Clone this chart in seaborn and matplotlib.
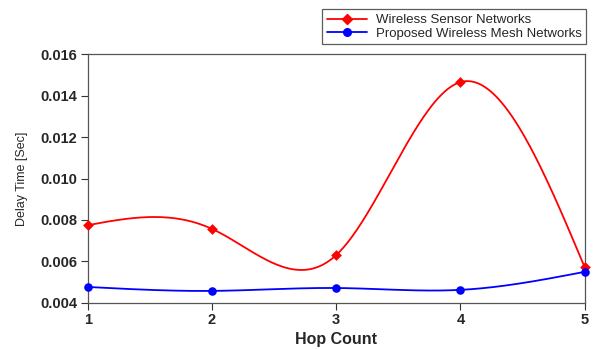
import numpy as np
import pandas as pd
import seaborn as sns
import matplotlib
matplotlib.use("Agg")
import matplotlib.pyplot as plt
from matplotlib.lines import Line2D

hops = [1, 2, 3, 4, 5]
wsn = [0.00775, 0.00757, 0.00631, 0.01465, 0.00572]
wmn = [0.00477, 0.00458, 0.00472, 0.00463, 0.00550]
series_names = ["Wireless Sensor Networks", "Proposed Wireless Mesh Networks"]
yticks = [0.004, 0.006, 0.008, 0.010, 0.012, 0.014, 0.016]


def natural_spline(x, y, n=300):
    x = np.asarray(x, float)
    y = np.asarray(y, float)
    k = len(x)
    h = np.diff(x)
    A = np.zeros((k, k))
    b = np.zeros(k)
    A[0, 0] = 1
    A[-1, -1] = 1
    for i in range(1, k - 1):
        A[i, i - 1] = h[i - 1]
        A[i, i] = 2 * (h[i - 1] + h[i])
        A[i, i + 1] = h[i]
        b[i] = 6 * ((y[i + 1] - y[i]) / h[i] - (y[i] - y[i - 1]) / h[i - 1])
    M = np.linalg.solve(A, b)
    xs = np.linspace(x[0], x[-1], n)
    ys = np.empty_like(xs)
    for j, xv in enumerate(xs):
        i = min(np.searchsorted(x, xv, side="right") - 1, k - 2)
        t0 = x[i + 1] - xv
        t1 = xv - x[i]
        ys[j] = (M[i] * t0 ** 3 + M[i + 1] * t1 ** 3) / (6 * h[i]) \
            + (y[i] / h[i] - M[i] * h[i] / 6) * t0 \
            + (y[i + 1] / h[i] - M[i + 1] * h[i] / 6) * t1
    return xs, ys


sns.set_style("white")
plt.rcParams["font.family"] = ["Liberation Sans", "DejaVu Sans"]

fig = plt.figure(figsize=(5.93, 3.49), dpi=100)
ax = fig.add_axes([0.148, 0.132, 0.838, 0.713])

colors = ["#ff0000", "#0000ff"]
markers = ["D", "o"]
for name, vals, c, m in zip(series_names, [wsn, wmn], colors, markers):
    xs, ys = natural_spline(hops, vals)
    sns.lineplot(x=xs, y=ys, ax=ax, color=c, lw=1.3, estimator=None, sort=False)
    df = pd.DataFrame({"x": hops, "y": vals})
    sns.scatterplot(data=df, x="x", y="y", ax=ax, color=c, marker=m,
                    s=30 if m == "D" else 38, edgecolor=c, linewidth=0, zorder=5,
                    clip_on=False)

ax.set_xlim(1, 5)
ax.set_ylim(0.004, 0.016)
ax.set_xticks(hops)
ax.set_yticks(yticks)
ax.set_xticklabels([str(h) for h in hops], fontweight="bold", fontsize=10.5)
ax.set_yticklabels([f"{t:.3f}" for t in yticks], fontweight="bold", fontsize=10.5)
ax.set_xlabel("Hop Count", fontweight="bold", fontsize=11.5, labelpad=3)
ax.set_ylabel("Delay Time [Sec]", fontsize=9, labelpad=9)
ax.tick_params(axis="both", direction="out", length=5, width=0.8, color="#333333",
               left=True, bottom=True, pad=2.5)
for s in ax.spines.values():
    s.set_color("#555555")
    s.set_linewidth(0.9)

handles = [Line2D([0], [0], color=c, marker=m, markersize=5.5, lw=1.3)
           for c, m in zip(colors, markers)]
leg = fig.legend(handles, series_names, loc="upper right",
                 bbox_to_anchor=(1.0, 0.992), frameon=True, fancybox=False,
                 fontsize=9.5, handlelength=3, borderpad=0.35, labelspacing=0.1,
                 handletextpad=0.7)
leg.get_frame().set_edgecolor("#333333")
leg.get_frame().set_linewidth(0.9)

fig.savefig("out.png", dpi=100)
